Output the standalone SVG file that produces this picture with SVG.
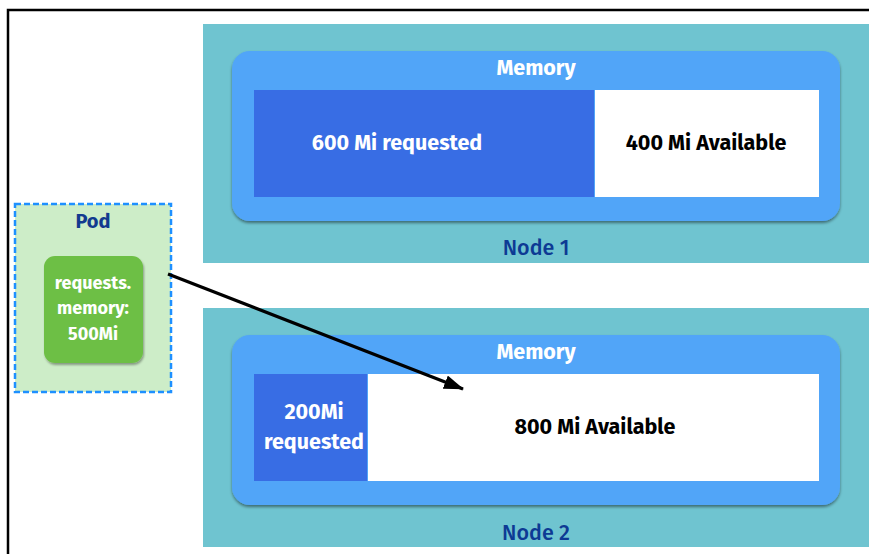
<svg xmlns="http://www.w3.org/2000/svg" width="869" height="554" viewBox="0 0 869 554">
<defs>
<style>
.t{font-family:"Fira Sans","Liberation Sans","Noto Sans",sans-serif;font-weight:bold;text-anchor:middle;dominant-baseline:central}
.teal{fill:#6fc4d0}
.mem{fill:#51a5f8;filter:url(#sh)}
.req{fill:#386de4}
.av{fill:#ffffff}
.w{fill:#ffffff;font-size:21.5px}
.k{fill:#000000;font-size:21.5px}
.nl{fill:#0d3a94;font-size:21.5px;font-weight:500}
</style>
<filter id="sh" x="-5%" y="-10%" width="110%" height="125%">
<feDropShadow dx="0" dy="2" stdDeviation="1.5" flood-color="#000" flood-opacity="0.45"/>
</filter>
<filter id="sh2" x="-10%" y="-10%" width="125%" height="125%">
<feDropShadow dx="1" dy="2" stdDeviation="1.2" flood-color="#000" flood-opacity="0.35"/>
</filter>
<marker id="ah" markerWidth="20" markerHeight="14" refX="19" refY="7" orient="auto" markerUnits="userSpaceOnUse">
<path d="M0,0 L20,7 L0,14 Z" fill="#000"/>
</marker>
</defs>
<rect width="869" height="554" fill="#ffffff"/>
<path d="M8,554 V10 H869" fill="none" stroke="#000" stroke-width="2.5"/>

<g id="node1">
<rect class="teal" x="203" y="24" width="666" height="239"/>
<rect class="mem" x="232" y="51" width="608" height="170" rx="18"/>
<text class="t w" x="536" y="68">Memory</text>
<rect class="req" x="254" y="90" width="340" height="107"/>
<rect class="av" x="595" y="90" width="224" height="107"/>
<text class="t w" x="397" y="143">600 Mi requested</text>
<text class="t k" x="706" y="143">400 Mi Available</text>
<text class="t nl" x="536" y="248">Node 1</text>
</g>

<g id="node2">
<rect class="teal" x="203" y="308" width="666" height="239"/>
<rect class="mem" x="232" y="335" width="608" height="170" rx="18"/>
<text class="t w" x="536" y="352">Memory</text>
<rect class="req" x="254" y="374" width="113" height="107"/>
<rect class="av" x="368" y="374" width="451" height="107"/>
<text class="t w" x="314" y="412">200Mi</text>
<text class="t w" x="314" y="442">requested</text>
<text class="t k" x="595" y="427">800 Mi Available</text>
<text class="t nl" x="536" y="533">Node 2</text>
</g>

<g id="pod">
<rect x="15" y="204" width="156" height="188" fill="#cdedc8" stroke="#1e90ff" stroke-width="2.5" stroke-dasharray="6,3"/>
<text class="t" x="93" y="221" fill="#123a8f" font-size="20">Pod</text>
<rect x="44" y="256" width="99" height="107" rx="11" fill="#6dbf44" filter="url(#sh2)"/>
<text class="t" x="93" y="283" fill="#ffffff" font-size="18">requests.</text>
<text class="t" x="93" y="308" fill="#ffffff" font-size="18">memory:</text>
<text class="t" x="93" y="334" fill="#ffffff" font-size="18">500Mi</text>
</g>

<g id="connectors">
<line x1="168" y1="274" x2="463" y2="389" stroke="#000" stroke-width="3.2" marker-end="url(#ah)"/>
</g>
</svg>
